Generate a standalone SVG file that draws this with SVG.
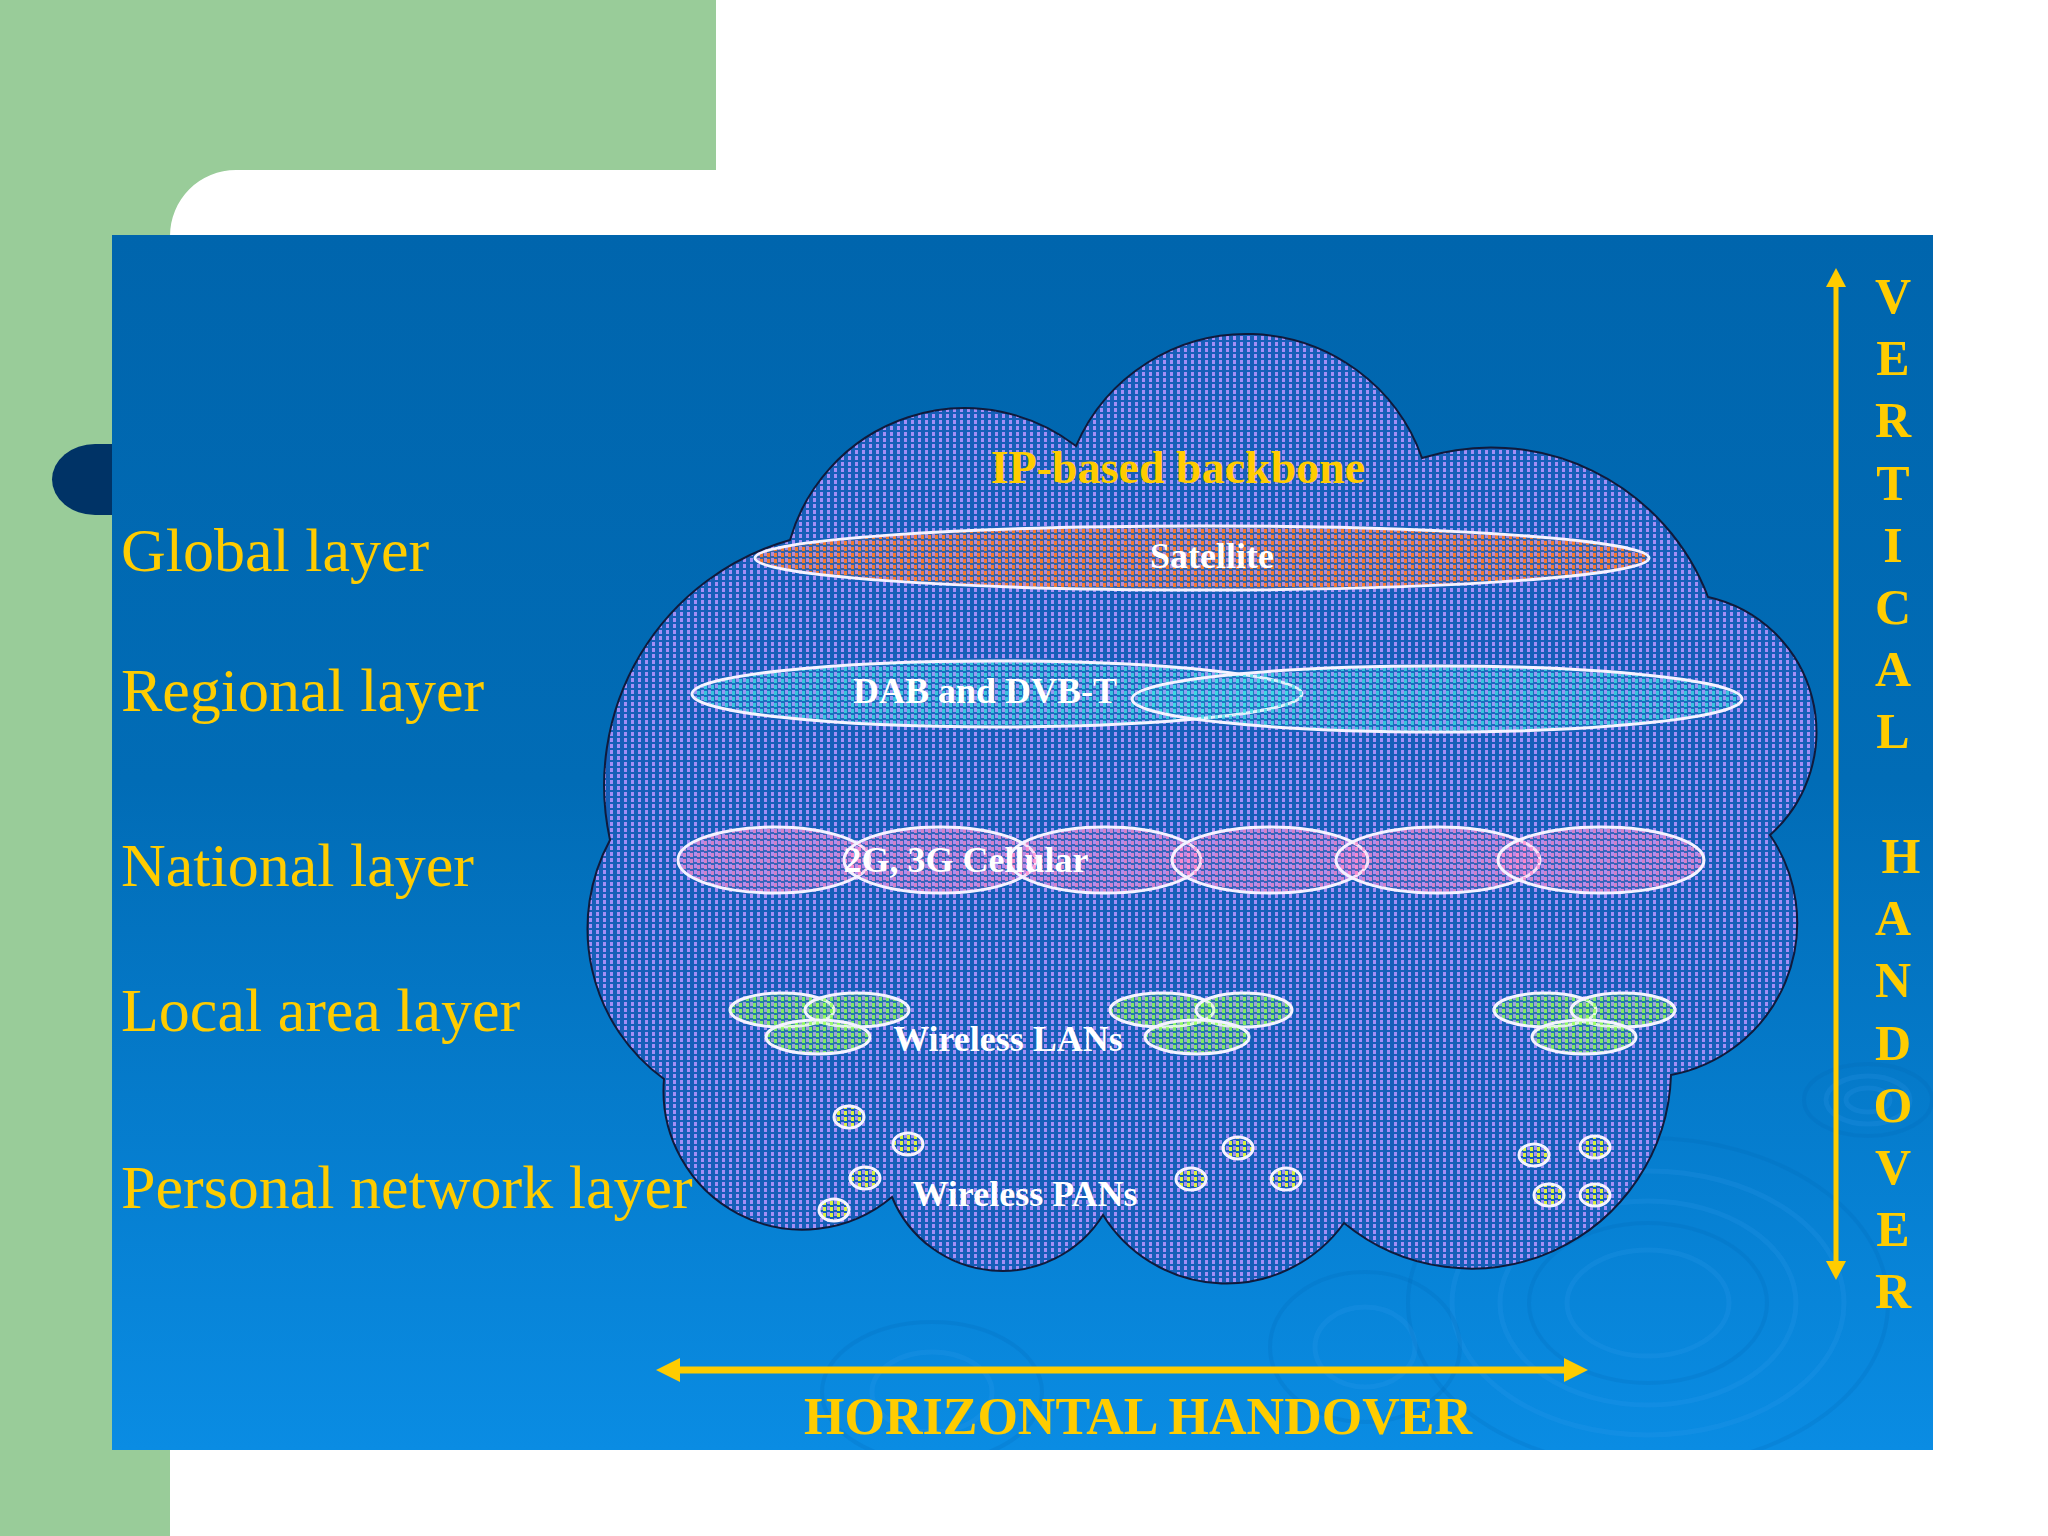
<svg xmlns="http://www.w3.org/2000/svg" width="2048" height="1536" viewBox="0 0 2048 1536">
<defs>
<linearGradient id="bgBlue" x1="0" y1="0" x2="0" y2="1">
<stop offset="0" stop-color="#0065AD"/>
<stop offset="0.45" stop-color="#016CB6"/>
<stop offset="1" stop-color="#0A8CE3"/>
</linearGradient>
<clipPath id="clipBlue">
<rect x="112" y="235" width="1821" height="1215"/>
</clipPath>
<pattern id="pBase" width="7" height="6" patternUnits="userSpaceOnUse">
<rect width="7" height="6" fill="#165FB8"/>
<rect x="1" y="0" width="3" height="4" fill="#A48EF6"/>
</pattern>
<pattern id="pSat" width="7" height="6" patternUnits="userSpaceOnUse">
<rect width="7" height="6" fill="#F07830" fill-opacity="0.14"/>
<rect x="4" y="1" width="3" height="4" fill="#F07830"/>
</pattern>
<pattern id="pDab" width="7" height="6" patternUnits="userSpaceOnUse">
<rect width="7" height="6" fill="#40E0E8" fill-opacity="0.14"/>
<rect x="4" y="1" width="3" height="4" fill="#40DCE4"/>
</pattern>
<pattern id="pCell" width="7" height="6" patternUnits="userSpaceOnUse">
<rect width="7" height="6" fill="#FF80C8" fill-opacity="0.18"/>
<rect x="4" y="1" width="3" height="4" fill="#FF8ACC"/>
</pattern>
<pattern id="pWlan" width="7" height="6" patternUnits="userSpaceOnUse">
<rect width="7" height="6" fill="#80FF50" fill-opacity="0.18"/>
<rect x="4" y="1" width="3" height="4" fill="#90FF58"/>
</pattern>
<pattern id="pPan" width="7" height="6" patternUnits="userSpaceOnUse">
<rect x="4" y="1" width="3" height="4" fill="#D8F040"/>
</pattern>
<style>
.lbl{font-family:"Liberation Serif","Times New Roman",serif;font-size:62px;fill:#FFCC00;}
.in{font-family:"Liberation Serif","Times New Roman",serif;font-size:36px;font-weight:bold;fill:#FFFFFF;text-anchor:middle;}
.vt{font-family:"Liberation Serif","Times New Roman",serif;font-size:50px;font-weight:bold;fill:#FFCC00;text-anchor:middle;}
.cell{stroke:#F4F2FF;stroke-width:3;}
.ring{fill:none;stroke:#3CA4F4;stroke-opacity:0.16;stroke-width:5;}
.ringd{fill:none;stroke:#0062B2;stroke-opacity:0.18;stroke-width:4;}
.yel{fill:#FFCC00;}
</style>
</defs>

<g id="background">
<rect width="2048" height="1536" fill="#FFFFFF"/>
<path d="M0,0 H716 V170 H236 A66,66 0 0 0 170,236 V1536 H0 Z" fill="#99CC99"/>
<path d="M112,444 H95 A43,35.5 0 0 0 95,515 H112 Z" fill="#003366"/>
<rect x="112" y="235" width="1821" height="1215" fill="url(#bgBlue)"/>
<g id="ripples" clip-path="url(#clipBlue)">
<ellipse class="ring" cx="1648" cy="1303" rx="81" ry="53"/>
<ellipse class="ringd" cx="1648" cy="1303" rx="119" ry="80"/>
<ellipse class="ring" cx="1648" cy="1303" rx="148" ry="102"/>
<ellipse class="ring" cx="1648" cy="1303" rx="196" ry="132"/>
<ellipse class="ringd" cx="1648" cy="1303" rx="240" ry="165"/>
<ellipse class="ring" cx="1868" cy="1100" rx="22" ry="12"/>
<ellipse class="ring" cx="1868" cy="1100" rx="42" ry="24"/>
<ellipse class="ringd" cx="1868" cy="1100" rx="64" ry="36"/>
<ellipse class="ring" cx="932" cy="1392" rx="60" ry="40"/>
<ellipse class="ringd" cx="932" cy="1392" rx="110" ry="70"/>
<ellipse class="ring" cx="1365" cy="1347" rx="50" ry="40"/>
<ellipse class="ringd" cx="1365" cy="1347" rx="95" ry="75"/>
</g>
</g>

<g id="cloud">
<path d="M790,540 A182,182 0 0 1 1076,446 A186,186 0 0 1 1422,458 A232,232 0 0 1 1708,597 A138,138 0 0 1 1770,835 A155,155 0 0 1 1671,1075 A200,200 0 0 1 1344,1223 A145,145 0 0 1 1103,1215 A119,119 0 0 1 892,1197 A139,139 0 0 1 664,1079 A186,186 0 0 1 610,840 A255,255 0 0 1 790,540 Z" fill="url(#pBase)" stroke="#101a3c" stroke-width="2"/>
<text x="1178" y="483" font-family="Liberation Serif, Times New Roman, serif" font-size="46" font-weight="bold" fill="#FFCC00" text-anchor="middle">IP-based backbone</text>
</g>

<g id="satellite">
<ellipse cx="1202" cy="558" rx="447" ry="32" fill="url(#pSat)" class="cell"/>
<text class="in" x="1212" y="568">Satellite</text>
</g>

<g id="dab-dvbt">
<ellipse cx="997" cy="694" rx="305" ry="33" fill="url(#pDab)" fill-opacity="0.8" class="cell"/>
<ellipse cx="1437" cy="699" rx="305" ry="33" fill="url(#pDab)" fill-opacity="0.8" class="cell"/>
<text class="in" x="985" y="703">DAB and DVB-T</text>
</g>

<g id="cellular">
<ellipse cx="774" cy="860" rx="96" ry="33" fill="url(#pCell)" fill-opacity="0.8" class="cell"/>
<ellipse cx="940" cy="860" rx="96" ry="33" fill="url(#pCell)" fill-opacity="0.8" class="cell"/>
<ellipse cx="1105" cy="860" rx="96" ry="33" fill="url(#pCell)" fill-opacity="0.8" class="cell"/>
<ellipse cx="1270" cy="860" rx="98" ry="33" fill="url(#pCell)" fill-opacity="0.8" class="cell"/>
<ellipse cx="1438" cy="860" rx="102" ry="33" fill="url(#pCell)" fill-opacity="0.8" class="cell"/>
<ellipse cx="1601" cy="860" rx="103" ry="33" fill="url(#pCell)" fill-opacity="0.8" class="cell"/>
<text class="in" x="966" y="872">2G, 3G Cellular</text>
</g>

<g id="wlan">
<ellipse cx="782" cy="1010" rx="52" ry="17" fill="url(#pWlan)" fill-opacity="0.85" class="cell"/>
<ellipse cx="857" cy="1010" rx="52" ry="17" fill="url(#pWlan)" fill-opacity="0.85" class="cell"/>
<ellipse cx="818" cy="1037" rx="52" ry="17" fill="url(#pWlan)" fill-opacity="0.85" class="cell"/>
<ellipse cx="1162" cy="1010" rx="52" ry="17" fill="url(#pWlan)" fill-opacity="0.85" class="cell"/>
<ellipse cx="1244" cy="1010" rx="48" ry="17" fill="url(#pWlan)" fill-opacity="0.85" class="cell"/>
<ellipse cx="1197" cy="1037" rx="52" ry="17" fill="url(#pWlan)" fill-opacity="0.85" class="cell"/>
<ellipse cx="1545" cy="1010" rx="51" ry="17" fill="url(#pWlan)" fill-opacity="0.85" class="cell"/>
<ellipse cx="1623" cy="1010" rx="52" ry="17" fill="url(#pWlan)" fill-opacity="0.85" class="cell"/>
<ellipse cx="1584" cy="1037" rx="52" ry="17" fill="url(#pWlan)" fill-opacity="0.85" class="cell"/>
<text class="in" x="1008" y="1051">Wireless LANs</text>
</g>

<g id="wpan">
<ellipse cx="849" cy="1117" rx="15" ry="11" fill="url(#pPan)" class="cell"/>
<ellipse cx="908" cy="1144" rx="15" ry="11" fill="url(#pPan)" class="cell"/>
<ellipse cx="865" cy="1178" rx="15" ry="11" fill="url(#pPan)" class="cell"/>
<ellipse cx="834" cy="1210" rx="15" ry="11" fill="url(#pPan)" class="cell"/>
<ellipse cx="1238" cy="1148" rx="15" ry="11" fill="url(#pPan)" class="cell"/>
<ellipse cx="1191" cy="1179" rx="15" ry="11" fill="url(#pPan)" class="cell"/>
<ellipse cx="1286" cy="1179" rx="15" ry="11" fill="url(#pPan)" class="cell"/>
<ellipse cx="1534" cy="1155" rx="15" ry="11" fill="url(#pPan)" class="cell"/>
<ellipse cx="1595" cy="1147" rx="15" ry="11" fill="url(#pPan)" class="cell"/>
<ellipse cx="1549" cy="1195" rx="15" ry="11" fill="url(#pPan)" class="cell"/>
<ellipse cx="1595" cy="1195" rx="15" ry="11" fill="url(#pPan)" class="cell"/>
<text class="in" x="1025" y="1206">Wireless PANs</text>
</g>

<g id="layer-labels">
<text class="lbl" x="121" y="571">Global layer</text>
<text class="lbl" x="121" y="711">Regional layer</text>
<text class="lbl" x="121" y="886">National layer</text>
<text class="lbl" x="121" y="1031">Local area layer</text>
<text class="lbl" x="121" y="1208">Personal network layer</text>
</g>

<g id="connectors">
<rect x="1833.5" y="284" width="5" height="980" class="yel"/>
<polygon points="1836,268 1846,287 1826,287" class="yel"/>
<polygon points="1836,1280 1846,1261 1826,1261" class="yel"/>
<rect x="678" y="1366.5" width="888" height="7" class="yel"/>
<polygon points="656,1370 680,1358 680,1382" class="yel"/>
<polygon points="1588,1370 1564,1358 1564,1382" class="yel"/>
</g>

<g id="vertical-handover-label">
<text class="vt" x="1893" y="313">V</text>
<text class="vt" x="1893" y="375">E</text>
<text class="vt" x="1893" y="437">R</text>
<text class="vt" x="1893" y="500">T</text>
<text class="vt" x="1893" y="562">I</text>
<text class="vt" x="1893" y="624">C</text>
<text class="vt" x="1893" y="686">A</text>
<text class="vt" x="1893" y="748">L</text>
<text class="vt" x="1901" y="873">H</text>
<text class="vt" x="1893" y="935">A</text>
<text class="vt" x="1893" y="997">N</text>
<text class="vt" x="1893" y="1060">D</text>
<text class="vt" x="1893" y="1122">O</text>
<text class="vt" x="1893" y="1184">V</text>
<text class="vt" x="1893" y="1246">E</text>
<text class="vt" x="1893" y="1308">R</text>
</g>

<g id="horizontal-handover-label">
<text x="1138" y="1434" font-family="Liberation Serif, Times New Roman, serif" font-size="52" font-weight="bold" fill="#FFCC00" text-anchor="middle">HORIZONTAL HANDOVER</text>
</g>
</svg>
